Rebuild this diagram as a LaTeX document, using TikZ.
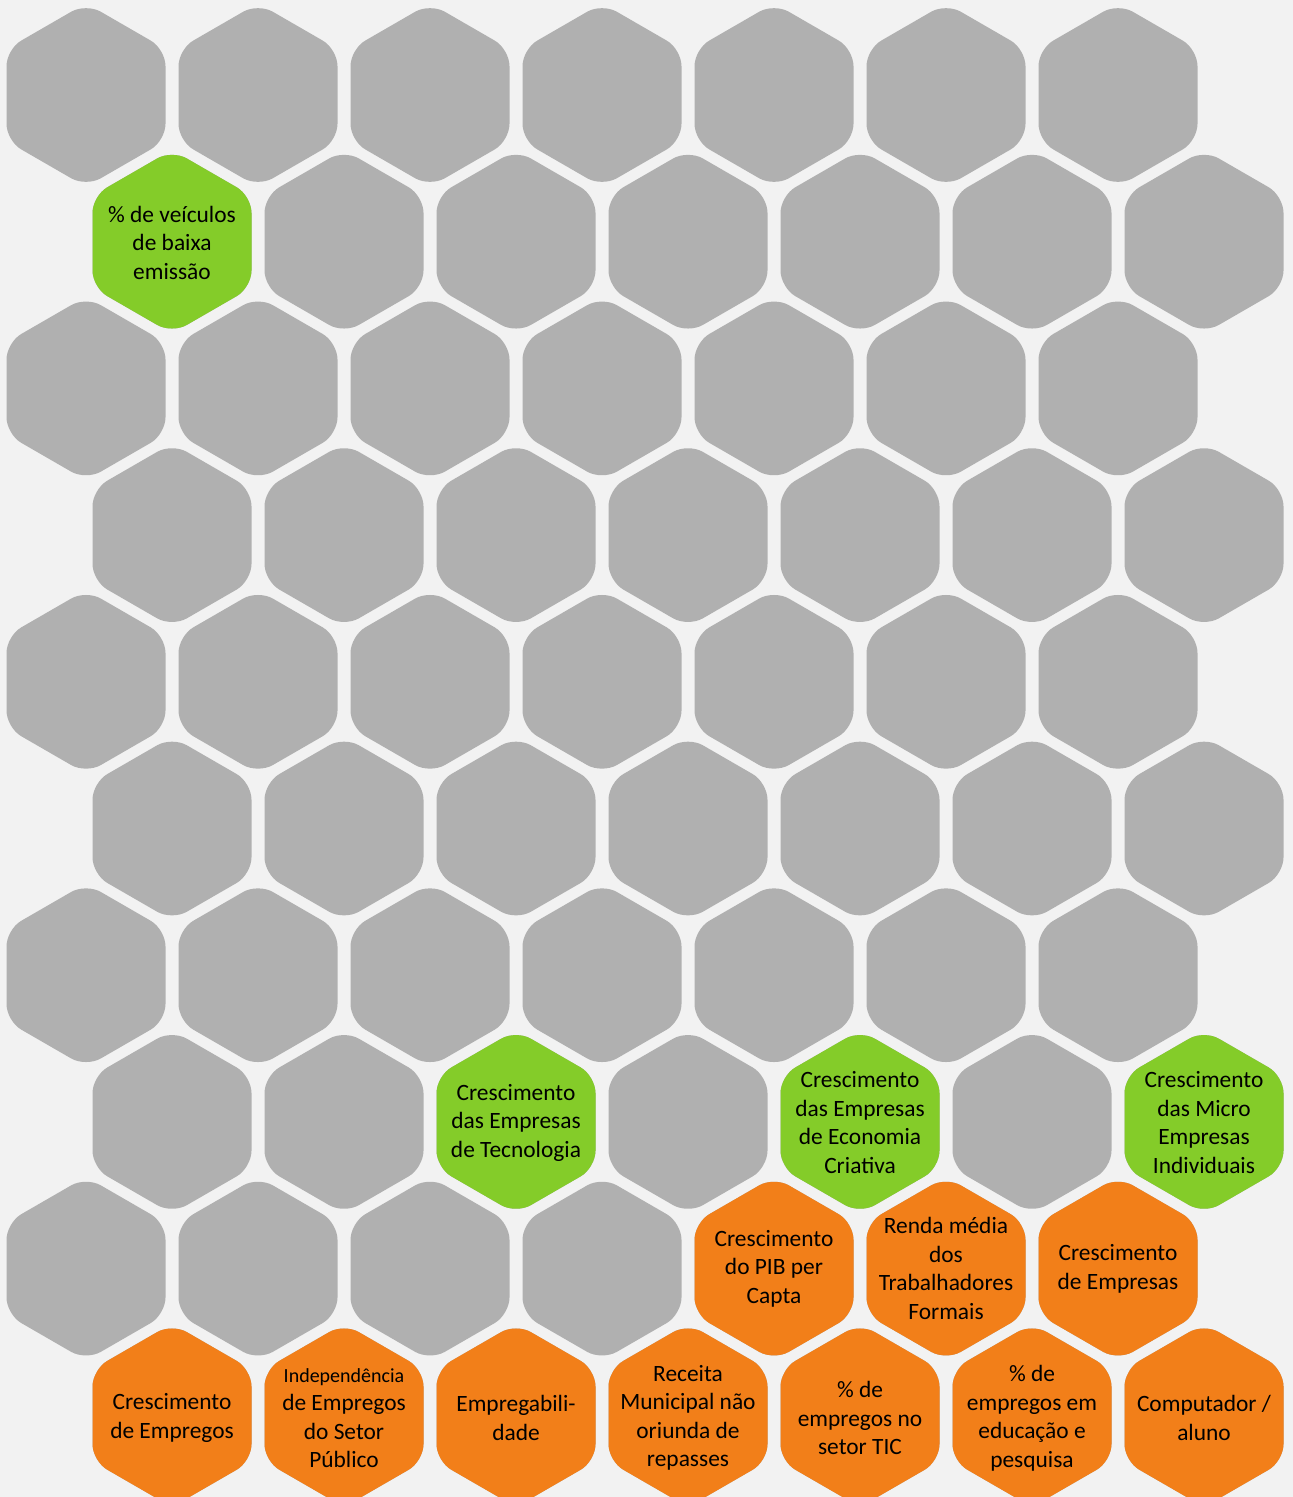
\documentclass[tikz,border=0pt]{standalone}
\usepackage{fontspec}
\setmainfont{Carlito}
\definecolor{bgcol}{HTML}{F2F2F2}
\definecolor{hexgray}{HTML}{B0B0B0}
\definecolor{hexgreen}{HTML}{84CC29}
\definecolor{hexorange}{HTML}{F27F19}
\newcommand\hexat[3]{\fill[#3, rounded corners=17pt] (#1,#2) +(0,-91.8) -- +(79.5,-45.9) -- +(79.5,45.9) -- +(0,91.8) -- +(-79.5,45.9) -- +(-79.5,-45.9) -- cycle;}
\tikzset{
  lbl/.style={font=\fontsize{23.4}{28.5}\selectfont, align=center, inner sep=0pt, text=black},
}
\begin{document}
\begin{tikzpicture}[x=1pt,y=-1pt]
\fill[bgcol] (0,0) rectangle (1293,1497);
\useasboundingbox (0,0) rectangle (1293,1497);
\clip (0,0) rectangle (1293,1497);
\foreach \r in {0,...,9} {
  \pgfmathsetmacro\yy{95+146.7*\r}
  \pgfmathsetmacro\xo{86+86*mod(\r,2)}
  \foreach \c in {0,...,6} {
    \pgfmathsetmacro\xx{\xo+172*\c}
    \hexat{\xx}{\yy}{hexgray}
  }
}
% green
\hexat{172}{241.7}{hexgreen}
\hexat{516}{1121.9}{hexgreen}
\hexat{860}{1121.9}{hexgreen}
\hexat{1204}{1121.9}{hexgreen}
% orange row 8
\hexat{774}{1268.6}{hexorange}
\hexat{946}{1268.6}{hexorange}
\hexat{1118}{1268.6}{hexorange}
% orange row 9
\foreach \xx in {172,344,516,688,860,1032,1204} {\hexat{\xx}{1415.3}{hexorange}}

\node[lbl] (veic) at (172,242.5) {\% de veículos\\de baixa\\emissão};
\node[lbl] (tec) at (516,1122.5) {Crescimento\\das Empresas\\de Tecnologia};
\node[lbl] (cria) at (860,1122.5) {Crescimento\\das Empresas\\de Economia\\Criativa};
\node[lbl] (micro) at (1204,1122.5) {Crescimento\\das Micro\\Empresas\\Individuais};
\node[lbl] (pib) at (774,1268.6) {Crescimento\\do PIB per\\Capta};
\node[lbl] (renda) at (946,1268.6) {Renda média\\dos\\Trabalhadores\\Formais};
\node[lbl] (empresas) at (1118,1268.6) {Crescimento\\de Empresas};
\node[lbl] (empregos) at (172,1418) {Crescimento\\de Empregos};
\node[lbl] (indep) at (344,1418) {{\fontsize{20}{28.5}\selectfont Independência}\\de Empregos\\do Setor\\Público};
\node[lbl] (empreg) at (516,1418) {Empregabili-\\dade};
\node[lbl] (receita) at (688,1418) {Receita\\Municipal não\\oriunda de\\repasses};
\node[lbl] (tic) at (860,1418) {\% de\\empregos no\\setor TIC};
\node[lbl] (educ) at (1032,1418) {\% de\\empregos em\\educação e\\pesquisa};
\node[lbl] (comp) at (1204,1418) {Computador /\\aluno};
\end{tikzpicture}
\end{document}
